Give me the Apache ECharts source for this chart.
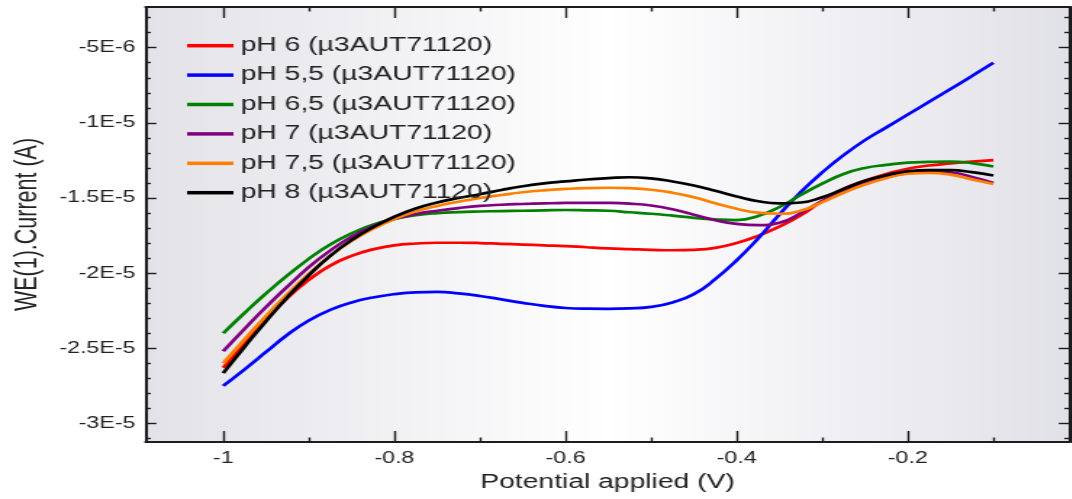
<!DOCTYPE html>
<html>
<head>
<meta charset="utf-8">
<script src="https://cdn.jsdelivr.net/npm/echarts@6/dist/echarts.min.js"></script>
<style>
  html, body { margin: 0; padding: 0; background: #ffffff; overflow: hidden; }
  #chart { height: 499px; transform-origin: 0 0; }
</style>
</head>
<body>
<div id="chart"></div>
<script>
// Potential sweep (V)
const potential = [-1.000, -0.975, -0.950, -0.925, -0.900, -0.875, -0.850, -0.825, -0.800, -0.775,
                   -0.750, -0.725, -0.700, -0.675, -0.650, -0.625, -0.600, -0.575, -0.550, -0.525,
                   -0.500, -0.475, -0.450, -0.425, -0.400, -0.375, -0.350, -0.325, -0.300, -0.275,
                   -0.250, -0.225, -0.200, -0.175, -0.150, -0.125, -0.100];

// Working electrode current (A) for each pH
const ph6  = [-2.63e-5, -2.47e-5, -2.31e-5, -2.165e-5, -2.045e-5, -1.95e-5, -1.885e-5, -1.842e-5, -1.815e-5, -1.803e-5,
              -1.798e-5, -1.798e-5, -1.80e-5, -1.805e-5, -1.81e-5, -1.815e-5, -1.82e-5, -1.828e-5, -1.835e-5, -1.84e-5,
              -1.845e-5, -1.848e-5, -1.845e-5, -1.832e-5, -1.80e-5, -1.752e-5, -1.69e-5, -1.615e-5, -1.52e-5, -1.44e-5,
              -1.385e-5, -1.34e-5, -1.305e-5, -1.284e-5, -1.27e-5, -1.258e-5, -1.248e-5];
const ph55 = [-2.75e-5, -2.64e-5, -2.525e-5, -2.41e-5, -2.315e-5, -2.245e-5, -2.195e-5, -2.162e-5, -2.14e-5, -2.128e-5,
              -2.125e-5, -2.135e-5, -2.152e-5, -2.175e-5, -2.198e-5, -2.218e-5, -2.232e-5, -2.237e-5, -2.238e-5, -2.235e-5,
              -2.225e-5, -2.195e-5, -2.14e-5, -2.04e-5, -1.915e-5, -1.77e-5, -1.61e-5, -1.46e-5, -1.33e-5, -1.215e-5,
              -1.115e-5, -1.03e-5, -0.945e-5, -0.86e-5, -0.775e-5, -0.688e-5, -0.60e-5];
const ph65 = [-2.40e-5, -2.265e-5, -2.135e-5, -2.015e-5, -1.905e-5, -1.81e-5, -1.735e-5, -1.678e-5, -1.64e-5, -1.615e-5,
              -1.601e-5, -1.594e-5, -1.59e-5, -1.587e-5, -1.585e-5, -1.582e-5, -1.58e-5, -1.582e-5, -1.585e-5, -1.595e-5,
              -1.605e-5, -1.618e-5, -1.632e-5, -1.642e-5, -1.647e-5, -1.62e-5, -1.56e-5, -1.48e-5, -1.405e-5, -1.34e-5,
              -1.30e-5, -1.28e-5, -1.265e-5, -1.26e-5, -1.258e-5, -1.268e-5, -1.29e-5];
const ph7  = [-2.52e-5, -2.37e-5, -2.225e-5, -2.09e-5, -1.96e-5, -1.85e-5, -1.758e-5, -1.688e-5, -1.64e-5, -1.607e-5,
              -1.585e-5, -1.567e-5, -1.553e-5, -1.545e-5, -1.54e-5, -1.536e-5, -1.533e-5, -1.532e-5, -1.533e-5, -1.538e-5,
              -1.55e-5, -1.575e-5, -1.612e-5, -1.648e-5, -1.672e-5, -1.681e-5, -1.665e-5, -1.60e-5, -1.52e-5, -1.455e-5,
              -1.40e-5, -1.362e-5, -1.335e-5, -1.325e-5, -1.33e-5, -1.36e-5, -1.40e-5];
const ph75 = [-2.60e-5, -2.44e-5, -2.285e-5, -2.14e-5, -2.005e-5, -1.885e-5, -1.785e-5, -1.705e-5, -1.64e-5, -1.59e-5,
              -1.553e-5, -1.525e-5, -1.50e-5, -1.48e-5, -1.462e-5, -1.449e-5, -1.44e-5, -1.434e-5, -1.432e-5, -1.435e-5,
              -1.445e-5, -1.465e-5, -1.495e-5, -1.535e-5, -1.572e-5, -1.598e-5, -1.605e-5, -1.585e-5, -1.528e-5, -1.465e-5,
              -1.41e-5, -1.368e-5, -1.338e-5, -1.333e-5, -1.345e-5, -1.376e-5, -1.407e-5];
const ph8  = [-2.665e-5, -2.49e-5, -2.32e-5, -2.16e-5, -2.015e-5, -1.885e-5, -1.78e-5, -1.695e-5, -1.625e-5, -1.57e-5,
              -1.53e-5, -1.50e-5, -1.475e-5, -1.447e-5, -1.422e-5, -1.403e-5, -1.39e-5, -1.377e-5, -1.368e-5, -1.362e-5,
              -1.37e-5, -1.39e-5, -1.417e-5, -1.452e-5, -1.49e-5, -1.522e-5, -1.536e-5, -1.53e-5, -1.495e-5, -1.44e-5,
              -1.385e-5, -1.348e-5, -1.322e-5, -1.314e-5, -1.315e-5, -1.328e-5, -1.35e-5];

const seriesNames  = ['pH 6 (µ3AUT71120)', 'pH 5,5 (µ3AUT71120)', 'pH 6,5 (µ3AUT71120)',
                      'pH 7 (µ3AUT71120)', 'pH 7,5 (µ3AUT71120)', 'pH 8 (µ3AUT71120)'];
const seriesColors = ['#ff0000', '#0000ff', '#008000', '#800080', '#ff8000', '#000000'];
const seriesValues = [ph6, ph55, ph65, ph7, ph75, ph8];

// Axis ticks and labels
const xMajorTicks = [-1, -0.8, -0.6, -0.4, -0.2];
const xMinorTicks = [-0.9, -0.7, -0.5, -0.3, -0.1];
const yMajorTicks = [-3e-5, -2.5e-5, -2e-5, -1.5e-5, -1e-5, -5e-6];
const yTickLabels = ['-3E-5', '-2.5E-5', '-2E-5', '-1.5E-5', '-1E-5', '-5E-6'];
const yMinorTicks = [-3.1e-5, -2.9e-5, -2.8e-5, -2.7e-5, -2.6e-5, -2.4e-5, -2.3e-5, -2.2e-5, -2.1e-5,
                     -1.9e-5, -1.8e-5, -1.7e-5, -1.6e-5, -1.4e-5, -1.3e-5, -1.2e-5, -1.1e-5,
                     -9e-6, -8e-6, -7e-6, -6e-6, -4e-6, -3e-6];

const X_MIN = -1.0908, X_MAX = -0.0109;
const Y_MIN = -3.124e-5, Y_MAX = -2.29e-6;

// The drawing is laid out narrow and widened horizontally
const SX = 1.45;
const W = 1072 / SX;
const el = document.getElementById('chart');
el.style.width = W + 'px';
el.style.transform = 'scaleX(' + SX + ')';

const FONT = "'Liberation Sans', Arial, sans-serif";
const frameLine = { show: true, onZero: false, lineStyle: { color: '#1c1c1c', width: 2 } };
const noLine = { show: false, onZero: false };

function xAxisDef(position, ticks, len, labels, line) {
  return {
    type: 'value', position: position, min: X_MIN, max: X_MAX,
    axisLine: line ? frameLine : noLine,
    splitLine: { show: false },
    axisTick: { show: true, inside: true, length: len, customValues: ticks,
                lineStyle: { color: '#1c1c1c', width: 1.4 } },
    axisLabel: labels ? {
      show: true, customValues: ticks, margin: 9, color: '#222', fontSize: 16, fontFamily: FONT,
      formatter: v => String(+v.toFixed(1))
    } : { show: false },
    name: labels ? 'Potential applied (V)' : '',
    nameLocation: 'middle', nameGap: 31,
    nameTextStyle: { fontSize: 19.5, color: '#222', fontFamily: FONT }
  };
}

function yAxisDef(position, ticks, len, labels, line) {
  return {
    type: 'value', position: position, min: Y_MIN, max: Y_MAX,
    axisLine: line ? frameLine : noLine,
    splitLine: { show: false },
    axisTick: { show: true, inside: true, length: len, customValues: ticks,
                lineStyle: { color: '#1c1c1c', width: 1.4 } },
    axisLabel: labels ? {
      show: true, customValues: ticks, margin: 7, color: '#222', fontSize: 16, fontFamily: FONT,
      formatter: v => {
        let best = 0;
        yMajorTicks.forEach((t, i) => { if (Math.abs(t - v) < Math.abs(yMajorTicks[best] - v)) best = i; });
        return yTickLabels[best];
      }
    } : { show: false },
    name: labels ? 'WE(1).Current (A)' : '',
    nameLocation: 'middle', nameGap: 70,
    nameTextStyle: { fontSize: 21.5, color: '#222', fontFamily: FONT }
  };
}

const chart = echarts.init(el, null, { renderer: 'canvas' });
chart.setOption({
  animation: false,
  backgroundColor: '#ffffff',
  grid: {
    show: true, left: 100, right: W - 1070 / SX, top: 7, bottom: 57,
    borderWidth: 0,
    backgroundColor: new echarts.graphic.LinearGradient(0, 0, 1, 0, [
      { offset: 0, color: '#e2e2e8' },
      { offset: 0.5, color: '#ffffff' },
      { offset: 1, color: '#e1e1e8' }
    ])
  },
  legend: {
    orient: 'vertical', left: 124, top: 30.7,
    icon: 'rect', itemWidth: 32, itemHeight: 3.5, itemGap: 9.4,
    data: seriesNames,
    textStyle: { fontSize: 19.5, lineHeight: 20, color: '#222', fontFamily: FONT }
  },
  xAxis: [
    xAxisDef('bottom', xMajorTicks, 11, true, true),
    xAxisDef('bottom', xMinorTicks, 4.5, false, false),
    xAxisDef('top', xMajorTicks, 11, false, true),
    xAxisDef('top', xMinorTicks, 4.5, false, false)
  ],
  yAxis: [
    yAxisDef('left', yMajorTicks, 7.5, true, true),
    yAxisDef('left', yMinorTicks, 3.6, false, false),
    yAxisDef('right', yMajorTicks, 7.5, false, true),
    yAxisDef('right', yMinorTicks, 3.6, false, false)
  ],
  series: seriesNames.map((name, k) => ({
    name: name,
    type: 'line',
    xAxisIndex: 0, yAxisIndex: 0,
    smooth: 0.5,
    symbol: 'none',
    color: seriesColors[k],
    lineStyle: { color: seriesColors[k], width: 2.7 },
    data: potential.map((p, i) => [p, seriesValues[k][i]])
  }))
});
</script>
</body>
</html>
